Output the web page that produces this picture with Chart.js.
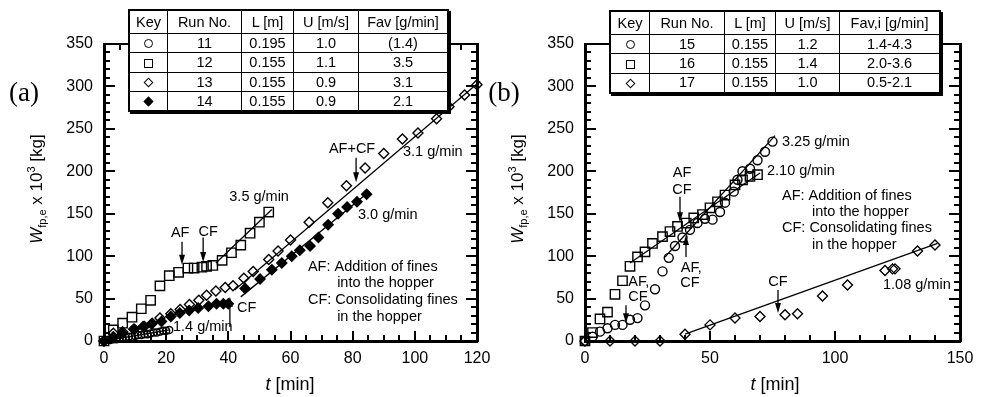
<!DOCTYPE html>
<html>
<head>
<meta charset="utf-8">
<script src="https://cdn.jsdelivr.net/npm/chart.js@4.4.1/dist/chart.umd.min.js"></script>
<style>
  body { margin: 0; background: #fff; font-family: "Liberation Sans", Arial, sans-serif; color: #000; }
  #wrap { position: relative; width: 986px; height: 397px; overflow: hidden; }
  canvas { position: absolute; top: 0; }
  #ca { left: 0; }
  #cb { left: 490px; }
  .panel { position: absolute; font-family: "Liberation Serif", "Times New Roman", serif; font-size: 27px; line-height: 1; transform: translate(-50%, -50%); }
  .ytitle { position: absolute; white-space: nowrap; font-size: 17px; line-height: 1; transform: translate(-50%, -50%) rotate(-90deg); }
  .ytitle sub, .ytitle sup { font-size: 11px; line-height: 0; }
  .xtitle { position: absolute; white-space: nowrap; font-size: 18px; line-height: 1; transform: translate(-50%, -50%); }
  table.key { position: absolute; border-collapse: collapse; table-layout: fixed; background: #fff; border: 2px solid #000; box-shadow: 2px 2px 0 #000; font-size: 14.5px; }
  table.key td { border: 1px solid #000; text-align: center; padding: 0; white-space: nowrap; line-height: 1; }
  .sym { display: inline-block; box-sizing: border-box; border: 1.3px solid #000; vertical-align: middle; }
  .circle { width: 9px; height: 9px; border-radius: 50%; }
  .square { width: 9px; height: 9px; }
  .diamond { width: 7px; height: 7px; transform: rotate(45deg); }
  .fdiamond { width: 7px; height: 7px; transform: rotate(45deg); background: #000; }
</style>
</head>
<body>
<div id="wrap">
  <canvas id="ca" width="500" height="397"></canvas>
  <canvas id="cb" width="496" height="397"></canvas>
  <div class="panel" style="left:24px;top:92px">(a)</div>
  <div class="panel" style="left:504px;top:92px">(b)</div>
  <div class="ytitle" style="left:36px;top:189px"><i>W</i><sub>fp,e</sub> x 10<sup>3</sup> [kg]</div>
  <div class="ytitle" style="left:517px;top:189px"><i>W</i><sub>fp,e</sub> x 10<sup>3</sup> [kg]</div>
  <div class="xtitle" style="left:290px;top:384px"><i>t</i> [min]</div>
  <div class="xtitle" style="left:775px;top:384px"><i>t</i> [min]</div>
</div>
<script>
// ---- panel (a): runs 11-14 ----
const t11 = [0, 1, 2, 3, 4, 5, 6, 7, 8, 9, 10, 11, 12, 13, 14, 15, 16, 17, 18, 19, 20, 21];
const w11 = [0, 1, 1, 2, 2, 3, 4, 4, 5, 5, 6, 7, 7, 8, 8, 9, 10, 10, 11, 12, 12, 13];
const t12 = [0, 3, 6, 9, 12, 15, 18, 21, 24, 27, 29, 31.5, 33, 35, 38, 41, 44, 47, 50, 53];
const w12 = [0, 13, 21, 28, 38, 48, 65, 77, 81, 86, 86, 87, 88, 89, 95, 104, 113, 127, 140, 152];
const t13 = [0, 3, 6, 9.5, 13, 15.5, 18, 21.5, 24.5, 27.5, 30.5, 33, 36, 39, 41.5, 45, 48, 53, 56, 60, 66, 72, 78, 84, 90, 96, 101, 107, 111, 116, 120];
const w13 = [0, 9, 11, 14, 17, 21, 27, 32, 37, 43, 48, 54, 59, 63, 65, 74, 82, 96, 106, 119, 140, 163, 183, 204, 221, 238, 245, 262, 276, 290, 302];
const t14 = [0, 3, 6, 9.8, 12.6, 15.3, 18.5, 21.5, 24.4, 27.4, 30.3, 33.6, 36.2, 38.4, 40, 45.4, 50.2, 54, 57.2, 60.4, 63, 66.3, 69, 72.1, 75.3, 78.2, 81.4, 84.5];
const w14 = [0, 5, 9, 14, 17, 20, 23, 29, 33, 36, 39, 41, 44, 44, 44, 62, 73, 84, 92, 100, 107, 112, 122, 137, 150, 158, 164, 173];
// fitted lines (end points)
const fit11T = [0, 21],  fit11W = [0, 13];
const fit12T = [36, 54], fit12W = [92, 155];
const fit13T = [42, 121], fit13W = [60, 306];
const fit14T = [44, 85], fit14W = [52, 175];

// ---- panel (b): runs 15-17 ----
const t15 = [0, 3, 6, 9, 12, 15, 18, 21, 24, 28, 31, 33.5, 36, 39, 42, 45, 48, 51, 54, 56, 59.5, 61, 63, 66, 69, 72, 75];
const w15 = [0, 5, 11, 15, 19, 19, 25, 27, 42, 61, 82, 98, 112, 122, 131, 139, 144, 143, 152, 163, 176, 190, 200, 203, 213, 223, 235];
const t16 = [0, 3, 6, 9, 12, 15, 18, 21, 24, 27, 31, 34, 37, 40.5, 43.5, 47, 50, 53, 56, 60, 63, 66, 69];
const w16 = [0, 10, 26, 34, 55, 71, 88, 99, 105, 115, 123, 129, 135, 139, 145, 149, 157, 164, 172, 184, 190, 194, 196];
const t17 = [0, 10, 20, 30, 40, 50, 60, 70, 80, 85, 95, 105, 120, 123, 124, 133, 140];
const w17 = [0, 0, 0, 0, 8, 19, 27, 29, 31, 32, 53, 66, 83, 85, 85, 106, 113];
const fit15T = [32, 76],  fit15W = [99, 242];
const fit16T = [18, 70],  fit16W = [92, 198];
const fit17T = [40, 141], fit17W = [8, 115];

// ---- key tables ----
const headA = ["Key", "Run No.", "L [m]", "U [m/s]", "Fav [g/min]"];
const keysA = ["circle", "square", "diamond", "fdiamond"];
const runA = ["11", "12", "13", "14"];
const lenA = ["0.195", "0.155", "0.155", "0.155"];
const velA = ["1.0", "1.1", "0.9", "0.9"];
const favA = ["(1.4)", "3.5", "3.1", "2.1"];

const headB = ["Key", "Run No.", "L [m]", "U [m/s]", "Fav,i [g/min]"];
const keysB = ["circle", "square", "diamond"];
const runB = ["15", "16", "17"];
const lenB = ["0.155", "0.155", "0.155"];
const velB = ["1.2", "1.4", "1.0"];
const favB = ["1.4-4.3", "2.0-3.6", "0.5-2.1"];

const FONT = '"Liberation Sans", Arial, sans-serif';

function buildTable(head, keys, cols, widths, left, top) {
  const tb = document.createElement("table");
  tb.className = "key";
  tb.style.left = left + "px";
  tb.style.top = top + "px";
  tb.style.width = widths.reduce((a, b) => a + b, 0) + "px";
  let tr = tb.insertRow();
  tr.style.height = "23px";
  head.forEach((h, i) => {
    const td = tr.insertCell();
    td.textContent = h;
    td.style.width = widths[i] + "px";
  });
  keys.forEach((k, r) => {
    tr = tb.insertRow();
    tr.style.height = "19.5px";
    const td = tr.insertCell();
    const s = document.createElement("span");
    s.className = "sym " + k;
    td.appendChild(s);
    cols.forEach(c => { tr.insertCell().textContent = c[r]; });
  });
  document.getElementById("wrap").appendChild(tb);
}

buildTable(headA, keysA, [runA, lenA, velA, favA], [37, 73, 51, 64, 88], 128, 9);
buildTable(headB, keysB, [runB, lenB, velB, favB], [38, 74, 50, 63, 99], 609, 10);

function pts(t, w) { return t.map((v, i) => ({x: v, y: w[i]})); }

function marks(t, w, style, r, filled) {
  return {
    data: pts(t, w), showLine: false, clip: false,
    pointStyle: style, pointRadius: r,
    pointBorderColor: "#000", pointBorderWidth: 1.4,
    pointBackgroundColor: filled ? "#000" : "rgba(0,0,0,0)"
  };
}

function fit(t, w) {
  return { data: pts(t, w), showLine: true, pointRadius: 0, borderColor: "#000", borderWidth: 1.3, clip: false };
}

// inward ticks on all four sides plus the frame, drawn as filled bars
function frameTicks(o) {
  return {
    id: "frameTicks",
    afterDraw(chart) {
      const ctx = chart.ctx, a = chart.chartArea;
      const xs = chart.scales.x, ys = chart.scales.y;
      const L = Math.round(a.left), R = Math.round(a.right), T = Math.round(a.top), B = Math.round(a.bottom);
      ctx.save();
      ctx.fillStyle = "#000";
      for (let i = 0; i <= o.yCount; i++) {
        const py = Math.round(ys.getPixelForValue(i * o.yMinor));
        const len = (i % o.yEvery === 0) ? 11 : 6;
        ctx.fillRect(L, py - 1, len, 2);
        ctx.fillRect(R - len, py - 1, len, 2);
      }
      for (let i = 0; i <= o.xCount; i++) {
        const px = Math.round(xs.getPixelForValue(i * o.xMinor));
        const len = (i % o.xEvery === 0) ? 10 : 6;
        ctx.fillRect(px - 1, B - len, 2, len);
        ctx.fillRect(px - 1, T, 2, len);
      }
      // frame
      ctx.fillRect(L - 1, T - 1, R - L + 2, 2);
      ctx.fillRect(L - 1, B - 1, R - L + 2, 3);
      ctx.fillRect(L - 1, T - 1, 3, B - T + 2);
      ctx.fillRect(R - 1, T - 1, 3, B - T + 2);
      ctx.restore();
    }
  };
}

// text notes and arrows placed in data units
function notes(list, arrows) {
  return {
    id: "notes",
    afterDatasetsDraw(chart) {
      const ctx = chart.ctx;
      const xs = chart.scales.x, ys = chart.scales.y;
      ctx.save();
      ctx.fillStyle = "#000";
      ctx.strokeStyle = "#000";
      ctx.font = "14.5px " + FONT;
      ctx.textBaseline = "middle";
      list.forEach(n => {
        ctx.textAlign = n.align || "center";
        ctx.fillText(n.s, xs.getPixelForValue(n.t), ys.getPixelForValue(n.w));
      });
      arrows.forEach(ar => {
        const px = xs.getPixelForValue(ar.t);
        const y1 = ys.getPixelForValue(ar.from), y2 = ys.getPixelForValue(ar.to);
        const dir = Math.sign(y2 - y1);
        ctx.lineWidth = 1.3;
        ctx.beginPath(); ctx.moveTo(px, y1); ctx.lineTo(px, y2 - dir * 6); ctx.stroke();
        ctx.beginPath(); ctx.moveTo(px, y2); ctx.lineTo(px - 3, y2 - dir * 10); ctx.lineTo(px + 3, y2 - dir * 10); ctx.closePath(); ctx.fill();
      });
      ctx.restore();
    }
  };
}

function makeChart(id, datasets, xMax, xStep, yWidth, padRight, plugins) {
  return new Chart(document.getElementById(id), {
    type: "scatter",
    data: { datasets: datasets },
    options: {
      responsive: false,
      animation: false,
      layout: { padding: { top: 44, right: padRight, left: 0, bottom: 0 } },
      plugins: { legend: { display: false }, tooltip: { enabled: false } },
      scales: {
        x: {
          type: "linear", min: 0, max: xMax,
          afterFit: s => { s.height = 56; },
          grid: { display: false, drawTicks: false }, border: { display: false },
          ticks: { stepSize: xStep, padding: 8, color: "#000", maxRotation: 0, autoSkip: false, font: { size: 16, family: FONT } }
        },
        y: {
          type: "linear", min: 0, max: 350,
          afterFit: s => { s.width = yWidth; },
          grid: { display: false, drawTicks: false }, border: { display: false },
          ticks: { stepSize: 50, padding: 11, color: "#000", font: { size: 16, family: FONT } }
        }
      }
    },
    plugins: plugins
  });
}

makeChart("ca", [
  fit(fit11T, fit11W), fit(fit12T, fit12W), fit(fit13T, fit13W), fit(fit14T, fit14W),
  marks(t11, w11, "circle", 3.5, false),
  marks(t12, w12, "rect", 6.6, false),
  marks(t13, w13, "rectRot", 5, false),
  marks(t14, w14, "rectRot", 5, true)
], 120, 20, 104, 23, [
  frameTicks({ xMinor: 5, xCount: 24, xEvery: 4, yMinor: 10, yCount: 35, yEvery: 5 }),
  notes([
    { s: "AF", t: 24.5, w: 127 },
    { s: "CF", t: 33.5, w: 128 },
    { s: "3.5 g/min", t: 49.9, w: 170 },
    { s: "AF+CF", t: 79.8, w: 226 },
    { s: "3.1 g/min", t: 96.2, w: 223, align: "left" },
    { s: "3.0 g/min", t: 81.7, w: 148, align: "left" },
    { s: "CF", t: 42.8, w: 39, align: "left" },
    { s: "1.4 g/min", t: 22.2, w: 16.5, align: "left" },
    { s: "AF: Addition of fines", t: 65.6, w: 87, align: "left" },
    { s: "into the hopper", t: 75, w: 68, align: "left" },
    { s: "CF: Consolidating fines", t: 65.6, w: 48, align: "left" },
    { s: "in the hopper", t: 75, w: 28, align: "left" }
  ], [
    { t: 25.1, from: 117, to: 90 },
    { t: 31.9, from: 122, to: 93 },
    { t: 81.1, from: 216, to: 187 },
    { t: 40.5, from: 16.5, to: 52 }
  ])
]);

makeChart("cb", [
  fit(fit15T, fit15W), fit(fit16T, fit16W), fit(fit17T, fit17W),
  marks(t15, w15, "circle", 4.5, false),
  marks(t16, w16, "rect", 6.6, false),
  marks(t17, w17, "rectRot", 5, false)
], 150, 50, 95, 26, [
  frameTicks({ xMinor: 10, xCount: 15, xEvery: 5, yMinor: 10, yCount: 35, yEvery: 5 }),
  notes([
    { s: "AF", t: 38.8, w: 198 },
    { s: "CF", t: 38.8, w: 178 },
    { s: "AF,", t: 42.5, w: 86 },
    { s: "CF", t: 42, w: 68 },
    { s: "AF,", t: 21.5, w: 70 },
    { s: "CF", t: 21.2, w: 52 },
    { s: "CF", t: 77.2, w: 70 },
    { s: "3.25 g/min", t: 78.8, w: 234.5, align: "left" },
    { s: "2.10 g/min", t: 72.8, w: 200, align: "left" },
    { s: "1.08 g/min", t: 119.2, w: 66, align: "left" },
    { s: "AF: Addition of fines", t: 78.8, w: 171, align: "left" },
    { s: "into the hopper", t: 90.8, w: 152, align: "left" },
    { s: "CF: Consolidating fines", t: 78.8, w: 133, align: "left" },
    { s: "in the hopper", t: 90.8, w: 113, align: "left" }
  ], [
    { t: 38, from: 170, to: 140 },
    { t: 40.4, from: 99, to: 125 },
    { t: 16.4, from: 42, to: 21 },
    { t: 77.2, from: 60, to: 33 }
  ])
]);
</script>
</body>
</html>
